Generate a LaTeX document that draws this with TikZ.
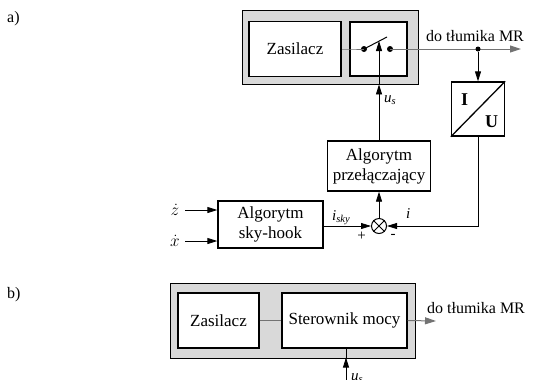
\documentclass[tikz,border=0pt]{standalone}
\usepackage{fontspec}
\setmainfont{Liberation Serif}
\usetikzlibrary{arrows.meta,calc}
\definecolor{boxgray}{RGB}{217,217,217}
\definecolor{pathgray}{RGB}{115,115,115}
\begin{document}
\begin{tikzpicture}[x=1bp,y=-1bp,
  blk/.style={draw, line width=1.3bp, fill=white, align=center, inner sep=0pt,
    font=\fontsize{17bp}{20bp}\selectfont},
  outer/.style={draw, line width=0.8bp, fill=boxgray, inner sep=0pt},
  sig/.style={line width=0.8bp, -{Triangle[length=10bp,width=6bp]}},
  gline/.style={line width=1bp, draw=pathgray},
  pwr/.style={line width=1bp, draw=pathgray, -{Triangle[length=11bp,width=7bp,fill=pathgray]}},
  lbl/.style={font=\fontsize{16bp}{19bp}\selectfont, inner sep=0pt},
  slbl/.style={font=\fontsize{15bp}{18bp}\selectfont, inner sep=0pt},
  dotn/.style={circle, fill, inner sep=0pt, minimum size=6bp}
]
\useasboundingbox (0,0) rectangle (534,379);

% ---------- a) ----------
\node[lbl, anchor=base west] (la) at (7,22) {a)};
\node[outer, minimum width=176bp, minimum height=74bp] (grayA) at (330,47) {};
\node[blk, minimum width=92bp, minimum height=55bp] (zasA) at (295,49) {Zasilacz};
\node[blk, minimum width=57bp, minimum height=54bp] (swA) at (378.5,49) {};
\node[dotn] (sl) at (364,49) {};
\node[dotn] (sr) at (390,49) {};
\coordinate (lev) at (387,37);
\draw[line width=1bp] (sl.center) -- (lev);
\draw[gline] (zasA.east) -- (swA.west) -- (sl.center);
\coordinate (out) at (521,49);
\draw[pwr] (sr.center) -- (out);
\node[dotn, minimum size=5bp] (jn) at (478,49) {};
\node[lbl, anchor=base] (doA) at (475,41.5) {do tłumika MR};

\node[blk, minimum width=53bp, minimum height=54bp] (iu) at (478,109) {};
\draw[line width=1.3bp] (iu.south west) -- (iu.north east);
\node[blk, draw=none, fill=none, font=\fontsize{18bp}{20bp}\selectfont\bfseries] (iI) at (464.5,100) {I};
\node[blk, draw=none, fill=none, font=\fontsize{18bp}{20bp}\selectfont\bfseries] (iU) at (491.5,121.5) {U};
\draw[sig] (jn) -- (iu.north);

\node[blk, minimum width=103bp, minimum height=50bp] (alg2) at (379,166) {Algorytm\\przełączający};
\node[blk, minimum width=105bp, minimum height=47bp] (alg1) at (270.5,224.5) {Algorytm\\sky-hook};
\node[draw, circle, line width=1bp, minimum size=15bp, inner sep=0pt, fill=white] (sum) at (379,226) {};
\draw[line width=1bp] (sum.north west) -- (sum.south east) (sum.north east) -- (sum.south west);

\coordinate (gb) at (alg2.north |- grayA.south);
\coordinate (swtip) at (379,41);
\draw[sig] (alg2.north) -- (gb);
\draw[sig] (gb) -- (swtip);
\node[slbl, anchor=base west] (usA) at (384,102) {\textit{u}\textsubscript{\textit{s}}};

\draw[sig] (iu.south) -- (iu.south |- sum) -- (sum.east);
\draw[sig] (alg1.east |- sum) -- (sum.west);
\draw[sig] (sum.north) -- (alg2.south);
\node[slbl, anchor=base west] (isky) at (332,220) {\textit{i}\textsubscript{\textit{sky}}};
\node[slbl, anchor=base west] (iL) at (406,218) {\textit{i}};
\node[slbl] (plus) at (361.5,236.5) {+};
\node[slbl] (minus) at (393,236) {-};

\node[lbl] (zl) at (175,210) {$\dot{z}$};
\node[lbl] (xl) at (175,241) {$\dot{x}$};
\coordinate (zin) at (185,210);
\coordinate (xin) at (185,241);
\draw[sig] (zin) -- (zin -| alg1.west);
\draw[sig] (xin) -- (xin -| alg1.west);

% ---------- b) ----------
\node[lbl, anchor=base west] (lb) at (7,298) {b)};
\node[outer, minimum width=245bp, minimum height=75bp] (grayB) at (292.5,320.5) {};
\node[blk, minimum width=81bp, minimum height=55bp] (zasB) at (218.5,320.5) {Zasilacz};
\node[blk, minimum width=125bp, minimum height=55bp] (sterB) at (344.5,320.5) {Sterownik mocy};
\draw[gline] (zasB.east) -- (sterB.west);
\coordinate (outB) at (436,321);
\draw[pwr] (sterB.east) -- (outB);
\node[lbl, anchor=base] (doB) at (476,313) {do tłumika MR};
\coordinate (usb) at (346,385);
\coordinate (gbb) at (346,357.5);
\draw[sig] (usb) -- (gbb);
\draw[line width=0.8bp] (gbb) -- (sterB.south -| gbb);
\node[slbl, anchor=base west] (usB) at (351,380) {\textit{u}\textsubscript{\textit{s}}};
\end{tikzpicture}
\end{document}
